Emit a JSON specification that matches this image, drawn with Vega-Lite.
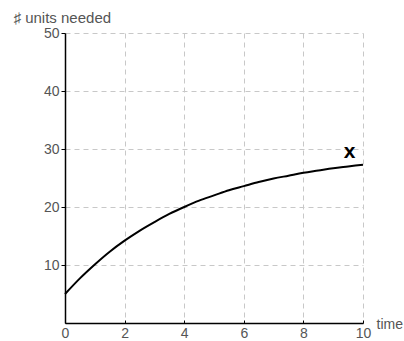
{
  "$schema": "https://vega.github.io/schema/vega-lite/v6.json",
  "width": 298,
  "height": 290,
  "autosize": {"type": "none"},
  "padding": {"left": 65, "top": 33, "right": 41, "bottom": 18},
  "config": {
    "view": {"stroke": null},
    "font": "Liberation Sans",
    "axis": {
      "labelFont": "Liberation Sans",
      "titleFont": "Liberation Sans",
      "labelFontSize": 14,
      "labelColor": "#555",
      "titleFontSize": 14,
      "titleColor": "#555",
      "titleFontWeight": "normal",
      "domainColor": "#000",
      "domainWidth": 1.5,
      "tickColor": "#000",
      "gridColor": "#c8c8c8",
      "gridDash": [5, 4],
      "gridWidth": 1
    }
  },
  "datasets": {
    "curve": [
      {"t": 0, "units": 5.0},
      {"t": 0.5, "units": 7.7},
      {"t": 1, "units": 10.1},
      {"t": 1.5, "units": 12.3},
      {"t": 2, "units": 14.2},
      {"t": 2.5, "units": 15.9},
      {"t": 3, "units": 17.4},
      {"t": 3.5, "units": 18.8},
      {"t": 4, "units": 20.0},
      {"t": 4.5, "units": 21.1},
      {"t": 5, "units": 22.0},
      {"t": 5.5, "units": 22.9},
      {"t": 6, "units": 23.6},
      {"t": 6.5, "units": 24.3},
      {"t": 7, "units": 24.9},
      {"t": 7.5, "units": 25.4},
      {"t": 8, "units": 25.9},
      {"t": 8.5, "units": 26.3},
      {"t": 9, "units": 26.7},
      {"t": 9.5, "units": 27.0},
      {"t": 10, "units": 27.3}
    ],
    "marker": [
      {"t": 9.55, "units": 28.45, "label": "x"}
    ]
  },
  "layer": [
    {
      "data": {"name": "curve"},
      "mark": {"type": "line", "color": "#000", "strokeWidth": 2, "interpolate": "monotone"},
      "encoding": {
        "x": {
          "field": "t",
          "type": "quantitative",
          "scale": {"domain": [0, 10], "nice": false, "zero": false},
          "axis": {
            "title": "time",
            "titleAngle": 0,
            "titleAlign": "left",
            "titleBaseline": "alphabetic",
            "titleX": 311,
            "titleY": 5,
            "values": [0, 1, 2, 3, 4, 5, 6, 7, 8, 9, 10],
            "grid": true,
            "labelExpr": "datum.value % 2 === 0 ? datum.label : ''",
            "tickSize": -3,
            "tickOpacity": {"condition": {"test": "datum.value % 2 === 0", "value": 1}, "value": 0},
            "labelPadding": 6,
            "labelFlush": false
          }
        },
        "y": {
          "field": "units",
          "type": "quantitative",
          "scale": {"domain": [0, 50], "nice": false},
          "axis": {
            "title": "♯ units needed",
            "titleFontSize": 15,
            "titleAngle": 0,
            "titleAlign": "left",
            "titleBaseline": "alphabetic",
            "titleX": -52,
            "titleY": -11,
            "values": [0, 5, 10, 15, 20, 25, 30, 35, 40, 45, 50],
            "grid": true,
            "labelExpr": "datum.value % 10 === 0 && datum.value > 0 ? datum.label : ''",
            "tickSize": 4,
            "tickOpacity": {"condition": {"test": "datum.value % 10 === 0 && datum.value > 0", "value": 1}, "value": 0},
            "labelPadding": 2,
            "labelFlush": false
          }
        }
      }
    },
    {
      "data": {"name": "marker"},
      "mark": {"type": "text", "fontSize": 21, "fontWeight": "bold", "color": "#000", "font": "Liberation Sans", "baseline": "alphabetic", "align": "center"},
      "encoding": {
        "x": {"field": "t", "type": "quantitative"},
        "y": {"field": "units", "type": "quantitative"},
        "text": {"field": "label"}
      }
    }
  ]
}
